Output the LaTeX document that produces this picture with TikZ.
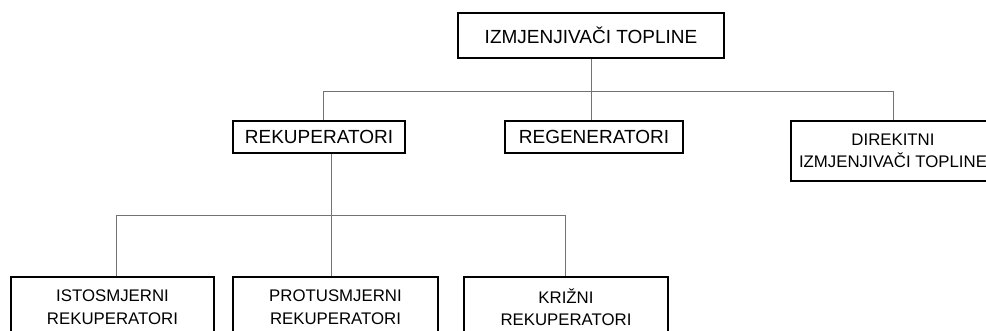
\documentclass[tikz,border=0pt]{standalone}
\usepackage{fontspec}
\setmainfont{Liberation Sans}
\begin{document}
\begin{tikzpicture}[x=1pt,y=-1pt,
  box/.style={draw=black, line width=1.3pt, inner sep=0pt, align=center,
    font=\fontsize{16.8}{22.5}\selectfont},
  big/.style={font=\fontsize{19}{23}\selectfont},
  conn/.style={draw=black!55, line width=1pt}]
\useasboundingbox (0,0) rectangle (986,331);
\clip (0,0) rectangle (986,331);
\node[box, big, minimum width=266pt, minimum height=45pt] (top) at (591,35.5) {IZMJENJIVAČI TOPLINE};
\node[box, big, minimum width=172pt, minimum height=32pt] (rek) at (319,137) {REKUPERATORI};
\node[box, big, minimum width=178pt, minimum height=32pt] (reg) at (594,137) {REGENERATORI};
\node[box, minimum width=204pt, minimum height=60pt] (dir) at (893,151) {DIREKITNI\\IZMJENJIVAČI TOPLINE};
\node[box, minimum width=203pt, minimum height=60pt] (ist) at (112.5,307) {ISTOSMJERNI\\REKUPERATORI};
\node[box, minimum width=205pt, minimum height=60pt] (pro) at (335.5,307) {PROTUSMJERNI\\REKUPERATORI};
\node[box, minimum width=204pt, minimum height=60pt] (kri) at (566,307) {KRIŽNI\\REKUPERATORI};
\coordinate (l1) at (323,92);
\coordinate (r1) at (893,92);
\coordinate (j2) at (331,216);
\coordinate (b1) at (116,216);
\coordinate (b2) at (565,216);
\draw[conn] (top.south) -- (top.south |- reg.north);
\draw[conn] (rek.north -| l1) |- (r1) -- (dir.north);
\draw[conn] (rek.south -| j2) -- (pro.north -| j2);
\draw[conn] (ist.north -| b1) |- (b2) -- (kri.north -| b2);
\end{tikzpicture}
\end{document}
